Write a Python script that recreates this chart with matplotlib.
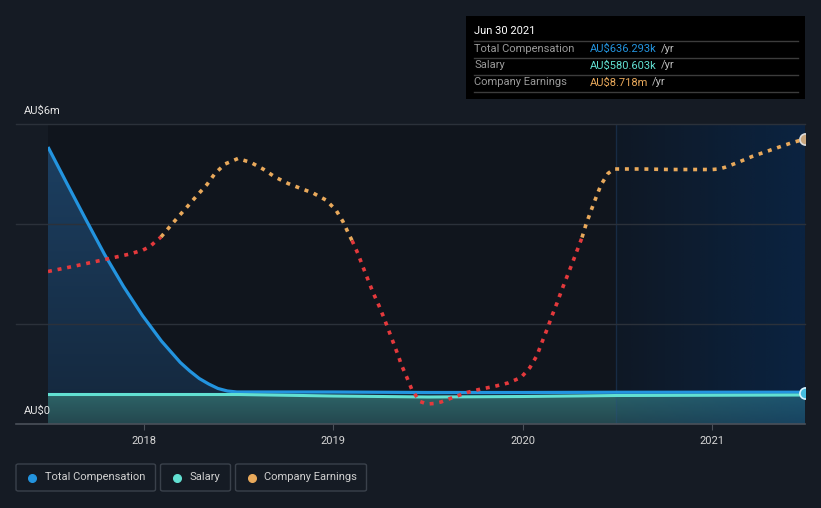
import matplotlib
matplotlib.use("Agg")
import matplotlib.pyplot as plt
from matplotlib.colors import LinearSegmentedColormap, to_rgb
from matplotlib.patches import Rectangle, FancyBboxPatch
from matplotlib.lines import Line2D
import numpy as np

plt.rcParams['font.family'] = ['Roboto', 'DejaVu Sans']

# values in AU$ millions, dates as decimal years
comp_years = [2017.493, 2017.593, 2017.693, 2017.792, 2017.892, 2017.992, 2018.092,
              2018.192, 2018.242, 2018.292, 2018.342, 2018.391, 2018.441, 2018.491,
              2019.0, 2019.5, 2020.0, 2020.5, 2021.0, 2021.492]
comp_values = [5.54, 4.81, 4.09, 3.39, 2.75, 2.17, 1.66,
               1.23, 1.06, 0.91, 0.80, 0.71, 0.66, 0.64,
               0.64, 0.63, 0.63, 0.635, 0.636, 0.636]

salary_years = [2017.493, 2018.0, 2018.5, 2019.0, 2019.5, 2020.0, 2020.5, 2021.0, 2021.492]
salary_values = [0.59, 0.59, 0.59, 0.56, 0.54, 0.55, 0.57, 0.575, 0.58]

earn_years = [2017.493, 2017.636, 2017.805, 2017.926, 2017.995, 2018.032, 2018.058, 2018.090,
              2018.137, 2018.185, 2018.232, 2018.280, 2018.333, 2018.375, 2018.428, 2018.497,
              2018.565, 2018.629, 2018.692, 2018.761, 2018.829, 2018.893, 2018.961, 2019.014,
              2019.051, 2019.083, 2019.099, 2019.130, 2019.156, 2019.183, 2019.210, 2019.241,
              2019.268, 2019.294, 2019.321, 2019.347, 2019.358, 2019.389, 2019.416, 2019.458,
              2019.495, 2019.532, 2019.569, 2019.632, 2019.706, 2019.780, 2019.849, 2019.923,
              2019.992, 2020.039, 2020.076, 2020.102, 2020.129, 2020.155, 2020.182, 2020.208,
              2020.235, 2020.261, 2020.287, 2020.314, 2020.335, 2020.361, 2020.388, 2020.414,
              2020.451, 2020.483, 2020.631, 2020.779, 2020.927, 2021.001, 2021.038, 2021.075,
              2021.143, 2021.212, 2021.281, 2021.349, 2021.418, 2021.455, 2021.492]
earn_values = [3.05, 3.16, 3.30, 3.40, 3.48, 3.55, 3.64, 3.74,
               3.95, 4.16, 4.36, 4.57, 4.79, 5.01, 5.20, 5.31,
               5.23, 5.10, 4.94, 4.81, 4.71, 4.62, 4.48, 4.28,
               4.05, 3.79, 3.67, 3.41, 3.15, 2.89, 2.63, 2.37,
               2.12, 1.86, 1.59, 1.33, 1.20, 0.93, 0.68, 0.45,
               0.40, 0.41, 0.44, 0.53, 0.63, 0.70, 0.75, 0.82,
               0.93, 1.13, 1.37, 1.63, 1.89, 2.16, 2.42, 2.69,
               2.95, 3.20, 3.46, 3.73, 3.99, 4.26, 4.53, 4.78,
               5.01, 5.10, 5.10, 5.09, 5.09, 5.09, 5.10, 5.14,
               5.24, 5.35, 5.44, 5.53, 5.62, 5.66, 5.71]

year_ticks = [2018, 2019, 2020, 2021]
y_label_vals = [0, 6]
y_label_text = ['AU$0', 'AU$6m']
highlight_start = 2020.496

tip_date = 'Jun 30 2021'
tip_names = ['Total Compensation', 'Salary', 'Company Earnings']
tip_values = ['AU$636.293k', 'AU$580.603k', 'AU$8.718m']

BG = '#151b24'
PLOT_BG = '#10151d'
C_COMP = '#2394df'
C_SAL = '#62e0d2'
C_EARN = '#e9a95b'
C_RED = '#e4393c'
W, H = 821, 508


def fx(px):
    return px / W


def fy(py):
    return 1 - py / H


fig = plt.figure(figsize=(W / 100, H / 100), dpi=100, facecolor=BG)
ax = fig.add_axes([fx(48), fy(424), 757 / W, 300 / H])
ax.set_facecolor(PLOT_BG)
x0, x1 = comp_years[0], comp_years[-1]


def grad_fill(x, y, c_top, c_bot, z, alpha=1.0):
    poly = ax.fill_between(x, y, 0, color='none', lw=0, zorder=z)
    grad = np.linspace(0, 1, 256).reshape(-1, 1)
    cmap = LinearSegmentedColormap.from_list('g', [c_bot, c_top])
    top = max(y)
    im = ax.imshow(grad, extent=[x0, x1, 0, top], origin='lower', aspect='auto',
                   cmap=cmap, zorder=z, alpha=alpha, interpolation='bilinear')
    im.set_clip_path(poly.get_paths()[0], transform=ax.transData)


grad_fill(comp_years, comp_values, '#1c3f61', '#14273c', 1)
grad_fill(salary_years, salary_values, '#2d6467', '#24474f', 2)

# highlight of the last year (semi-transparent blue, stronger to the right)
hl = np.zeros((2, 256, 4))
hl[..., :3] = to_rgb('#023d81')
hl[..., 3] = np.linspace(0.08, 0.36, 256)
ax.imshow(hl, extent=[highlight_start, x1, 0, 6], origin='lower', aspect='auto',
          zorder=3, interpolation='bilinear')
ax.axvline(highlight_start, color='#2a4f80', alpha=0.35, lw=1, zorder=3)

# grid lines, reaching out to the left labels
for v in [2, 4, 6]:
    ax.axhline(v, xmin=-32 / 757, xmax=1, color='#2b313a', lw=1, zorder=3.5, clip_on=False)
ax.axhline(0, xmin=-32 / 757, xmax=1, color='#4a5059', lw=1.2, zorder=3.5, clip_on=False)

ax.plot(comp_years, comp_values, color=C_COMP, lw=2.3, zorder=4,
        solid_capstyle='butt', solid_joinstyle='round')
ax.plot(salary_years, salary_values, color=C_SAL, lw=2.2, zorder=5, solid_capstyle='butt')

# earnings: red below threshold, orange above
ev = np.array(earn_values)
ey = np.array(earn_years)
above = ev >= 3.68
start = 0
for i in range(1, len(ev) + 1):
    if i == len(ev) or above[i] != above[start]:
        end = min(i + 1, len(ev))
        ax.plot(ey[start:end], ev[start:end], color=C_EARN if above[start] else C_RED,
                lw=2.6, linestyle=(0, (1.1, 1.6)), dash_capstyle='butt', zorder=6)
        start = i

ax.plot([x1], [earn_values[-1]], 'o', ms=8, mfc='#c7a57c', mec='#dcdcdc', mew=1.2, zorder=7)
ax.plot([x1], [comp_values[-1] - 0.015], 'o', ms=8, mfc='#45bde0', mec='#d8f4ff', mew=1.2, zorder=7)

ax.set_xlim(x0, x1)
ax.set_ylim(0, 6)
ax.set_yticks([])
ax.set_xticks(year_ticks)
ax.set_xticklabels([str(y) for y in year_ticks], color='#d6d6d6', fontsize=8)
ax.tick_params(axis='x', length=4, color='#4a5059', pad=5)
for s in ax.spines.values():
    s.set_visible(False)

for v, t in zip(y_label_vals, y_label_text):
    py = 424 - v * 50 - 13
    fig.text(fx(24), fy(py), t, color='#e6e6e6', fontsize=8, va='center', ha='left')

# tooltip box
fig.patches.append(Rectangle((fx(466), fy(99)), (805 - 466) / W, 83 / H,
                             transform=fig.transFigure, facecolor='#000000', edgecolor='none'))
fig.text(fx(474), fy(31), tip_date, color='#ffffff', fontsize=8, va='center')
for yy in [40.5, 57.5, 74.5, 91.5]:
    fig.add_artist(Line2D([fx(474), fx(798)], [fy(yy), fy(yy)], color='#3c3c3c', lw=1,
                          transform=fig.transFigure))
renderer = fig.canvas.get_renderer()
for name, val, col, yy in zip(tip_names, tip_values, [C_COMP, C_SAL, C_EARN], [48.5, 65.5, 82.5]):
    fig.text(fx(474), fy(yy), name, color='#9a9a9a', fontsize=8, va='center')
    t = fig.text(fx(590), fy(yy), val, color=col, fontsize=8, va='center')
    bb = t.get_window_extent(renderer)
    fig.text(bb.x1 / W + fx(4), fy(yy), '/yr', color='#bdbdbd', fontsize=8, va='center')

# legend boxes
legend_items = [('Total Compensation', C_COMP, 16, 155.5),
                ('Salary', C_SAL, 160.5, 230.5),
                ('Company Earnings', C_EARN, 235.5, 366.5)]
for label, col, lx, rx in legend_items:
    fig.patches.append(FancyBboxPatch((fx(lx), fy(491)), (rx - lx) / W, 27 / H,
                                      boxstyle='round,pad=0,rounding_size=0.003',
                                      transform=fig.transFigure, facecolor='none',
                                      edgecolor='#3a414b', lw=1))
    fig.add_artist(Line2D([fx(lx + 16)], [fy(477.5)], marker='o', ms=5.5, color=col,
                          mec=col, transform=fig.transFigure))
    fig.text(fx(lx + 28.5), fy(477.5), label, color='#d0d0d0', fontsize=8, va='center')

fig.savefig('out.png', dpi=100, facecolor=BG)
